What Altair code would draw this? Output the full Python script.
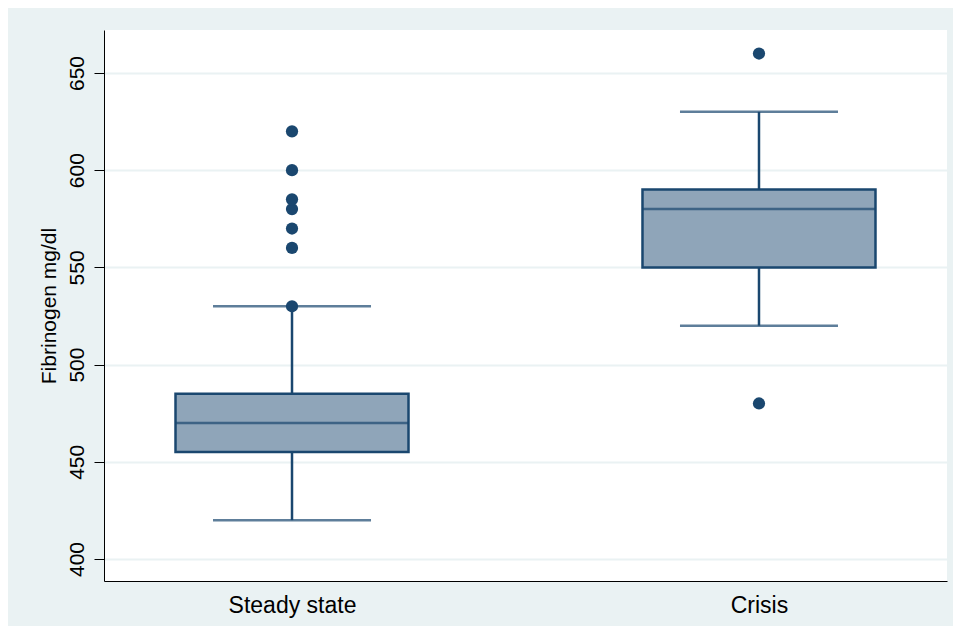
import altair as alt
import pandas as pd

# ---- data ----
groups = ["Steady state", "Crisis"]
q1 = [455, 550]
median = [470, 580]
q3 = [485, 590]
lower_whisker = [420, 520]
upper_whisker = [530, 630]

outlier_groups = ["Steady state"] * 7 + ["Crisis"] * 2
outlier_values = [530, 560, 570, 580, 585, 600, 620, 480, 660]

y_ticks = [400, 450, 500, 550, 600, 650]
y_title = "Fibrinogen mg/dl"

box_df = pd.DataFrame({
    "group": groups, "q1": q1, "median": median, "q3": q3,
    "lower": lower_whisker, "upper": upper_whisker,
})
out_df = pd.DataFrame({"group": outlier_groups, "value": outlier_values})

NAVY = "#1a476f"
FILL = "#8fa5b9"
BG = "#eaf2f3"
FONT = "Liberation Sans"
LW = 2.5

x_enc = alt.X(
    "group:N",
    sort=groups,
    scale=alt.Scale(type="point", padding=0.4026),
    axis=alt.Axis(
        title=None, ticks=False, tickSize=0, grid=False, labelAngle=0,
        labelFontSize=23, labelFont=FONT, labelColor="#000000",
        labelBaseline="alphabetic", labelPadding=31,
        domainColor="#000000", domainWidth=1,
    ),
)
y_scale = alt.Scale(domain=[388.7, 672.1], nice=False, zero=False)
y_axis = alt.Axis(
    values=y_ticks, title=y_title, grid=True, gridColor=BG, gridWidth=2,
    tickColor="#000000", tickSize=10, tickWidth=1,
    domainColor="#000000", domainWidth=1,
    labelAngle=270, labelAlign="center", labelBaseline="bottom",
    labelPadding=7, labelFontSize=21, labelFont=FONT, labelColor="#000000",
    titleFont=FONT, titleFontSize=21, titleFontWeight="normal", titleColor="#000000",
    titleAngle=270, titleAlign="center", titleBaseline="alphabetic",
    titleX=-49, titleY=275.5,
)

base = alt.Chart(box_df)

whisker_up = base.mark_rule(color=NAVY, strokeWidth=LW).encode(
    x=x_enc, y=alt.Y("q3:Q", scale=y_scale, axis=y_axis), y2="upper:Q")
whisker_down = base.mark_rule(color=NAVY, strokeWidth=LW).encode(
    x=x_enc, y=alt.Y("lower:Q", scale=y_scale), y2="q1:Q")
box = base.mark_bar(size=233, color=FILL, stroke=NAVY, strokeWidth=LW).encode(
    x=x_enc, y=alt.Y("q1:Q", scale=y_scale), y2="q3:Q")
med = base.mark_tick(size=233, thickness=LW, color=NAVY, orient="horizontal").encode(
    x=x_enc, y=alt.Y("median:Q", scale=y_scale))
cap_up = base.mark_tick(size=158, thickness=LW, color=NAVY, orient="horizontal").encode(
    x=x_enc, y=alt.Y("upper:Q", scale=y_scale))
cap_down = base.mark_tick(size=158, thickness=LW, color=NAVY, orient="horizontal").encode(
    x=x_enc, y=alt.Y("lower:Q", scale=y_scale))
outliers = alt.Chart(out_df).mark_circle(size=150, color=NAVY, opacity=1).encode(
    x=x_enc, y=alt.Y("value:Q", scale=y_scale))

chart = alt.layer(
    whisker_up, whisker_down, box, med, cap_up, cap_down, outliers
).properties(
    width=843, height=551,
    background=BG,
    autosize=alt.AutoSizeParams(type="none"),
    padding={"left": 96, "top": 22, "right": 6, "bottom": 45},
).configure_view(
    fill="#ffffff", stroke=None,
)

chart.save("out.html", embed_options={"renderer": "svg", "actions": False})
